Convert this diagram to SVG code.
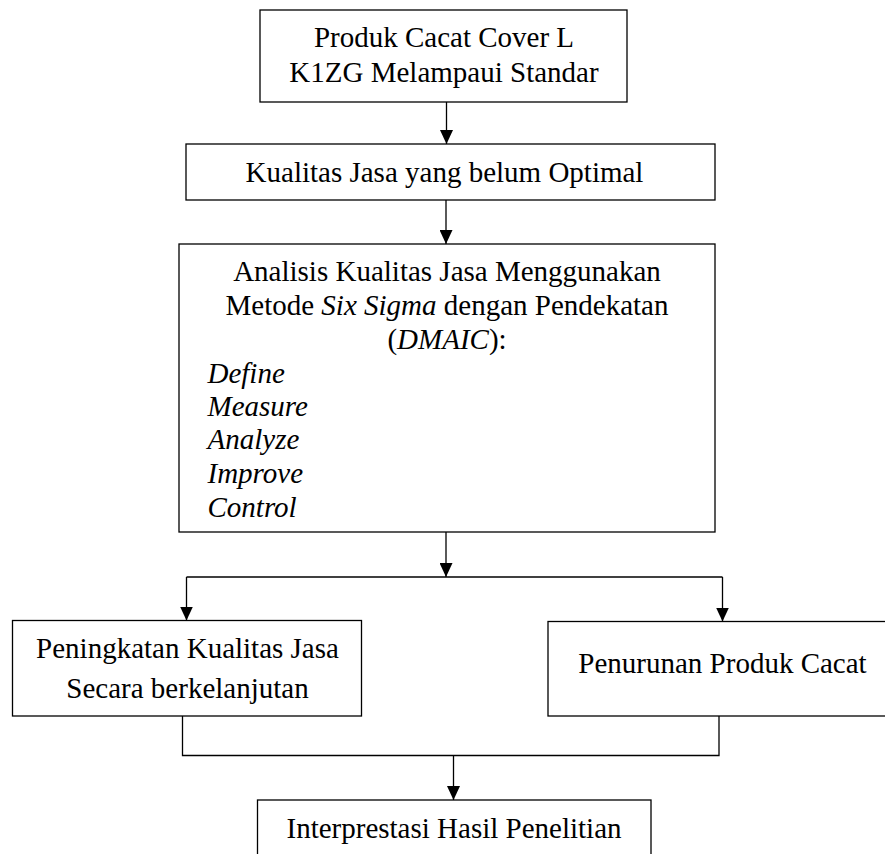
<svg xmlns="http://www.w3.org/2000/svg" width="885" height="854" viewBox="0 0 885 854">
  <defs>
    <marker id="arr" markerWidth="14" markerHeight="13" refX="14" refY="6.5" orient="auto" markerUnits="userSpaceOnUse">
      <path d="M0,0 L14,6.5 L0,13 Z" fill="#000"/>
    </marker>
    <style>
      .box { fill: #fff; stroke: #000; stroke-width: 1.3; }
      .t { font-family: "Liberation Serif", "Times New Roman", serif; font-size: 29px; fill: #000; }
      .c { text-anchor: middle; }
      .i { font-style: italic; }
      .ln { fill: none; stroke: #000; stroke-width: 1.3; }
    </style>
  </defs>
  <rect width="885" height="854" fill="#fff"/>

  <g id="connectors">
    <line class="ln" x1="446.5" y1="102" x2="446.5" y2="144" marker-end="url(#arr)"/>
    <line class="ln" x1="446" y1="200" x2="446" y2="244" marker-end="url(#arr)"/>
    <line class="ln" x1="446" y1="532" x2="446" y2="577" marker-end="url(#arr)"/>
    <polyline class="ln" points="186.5,577 722.5,577"/>
    <line class="ln" x1="186.5" y1="577" x2="186.5" y2="620.5" marker-end="url(#arr)"/>
    <line class="ln" x1="722.5" y1="577" x2="722.5" y2="621.5" marker-end="url(#arr)"/>
    <polyline class="ln" points="182.5,716 182.5,755.5 719,755.5 719,716"/>
    <line class="ln" x1="453.5" y1="755.5" x2="453.5" y2="800" marker-end="url(#arr)"/>
  </g>

  <g id="node-produk-cacat">
    <rect class="box" x="260" y="10" width="367" height="92"/>
    <text class="t c" x="444" y="47">Produk Cacat Cover L</text>
    <text class="t c" x="444" y="81.5">K1ZG Melampaui Standar</text>
  </g>

  <g id="node-kualitas-jasa">
    <rect class="box" x="186" y="144" width="529" height="56"/>
    <text class="t c" x="444.5" y="182">Kualitas Jasa yang belum Optimal</text>
  </g>

  <g id="node-analisis">
    <rect class="box" x="179" y="244" width="536" height="288"/>
    <text class="t c" x="447" y="281">Analisis Kualitas Jasa Menggunakan</text>
    <text class="t c" x="447" y="315">Metode <tspan class="i">Six Sigma</tspan> dengan Pendekatan</text>
    <text class="t c" x="447" y="349">(<tspan class="i">DMAIC</tspan>):</text>
    <text class="t i" x="207.5" y="383">Define</text>
    <text class="t i" x="207.5" y="416">Measure</text>
    <text class="t i" x="207.5" y="449">Analyze</text>
    <text class="t i" x="207.5" y="483">Improve</text>
    <text class="t i" x="207.5" y="517">Control</text>
  </g>

  <g id="node-peningkatan">
    <rect class="box" x="12.5" y="620.5" width="349" height="95.5"/>
    <text class="t c" x="187.5" y="658">Peningkatan Kualitas Jasa</text>
    <text class="t c" x="187.5" y="698">Secara berkelanjutan</text>
  </g>

  <g id="node-penurunan">
    <rect class="box" x="548" y="621.5" width="345" height="94.5"/>
    <text class="t c" x="722.5" y="673">Penurunan Produk Cacat</text>
  </g>

  <g id="node-interprestasi">
    <rect class="box" x="257.5" y="800" width="393.5" height="70"/>
    <text class="t c" x="454" y="838">Interprestasi Hasil Penelitian</text>
  </g>
</svg>
